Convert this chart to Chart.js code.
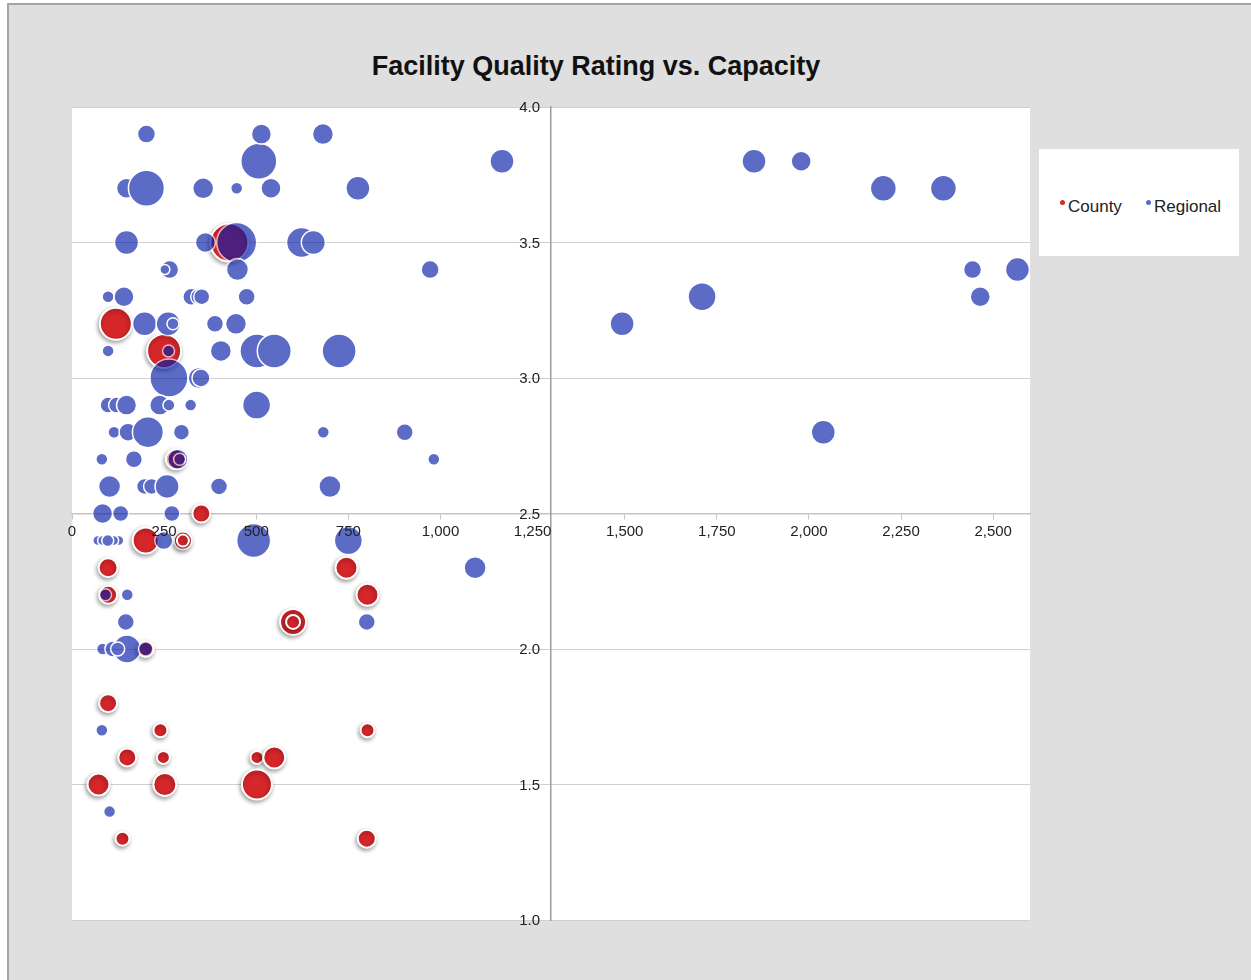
<!DOCTYPE html>
<html>
<head>
<meta charset="utf-8">
<script src="https://cdn.jsdelivr.net/npm/chart.js@4/dist/chart.umd.min.js"></script>
<style>
  html, body { margin: 0; padding: 0; background: #fff; width: 1251px; height: 980px; overflow: hidden; }
  #frame { position: absolute; left: 7px; top: 3px; width: 1300px; height: 1000px; background: #dfdfdf;
           border-left: 2px solid #a4a4a4; border-top: 2px solid #a4a4a4; }
  #title { position: absolute; left: 0; top: 47px; width: 1192px; text-align: center;
           font: bold 27px "Liberation Sans", Arial, sans-serif; color: #111; line-height: 38px; }
  #legend { position: absolute; left: 1039px; top: 149px; width: 200px; height: 107px; background: #fff;
            font: 17px "Liberation Sans", Arial, sans-serif; color: #222; }
  .item { position: absolute; top: 46px; line-height: 24px; }
  .dot { display: inline-block; width: 5px; height: 5px; border-radius: 50%; margin-right: 3px; vertical-align: 7px; }
  canvas { position: absolute; left: 0; top: 0; }
</style>
</head>
<body>
<div id="frame"></div>
<div id="title">Facility Quality Rating vs. Capacity</div>
<div id="legend">
  <div class="item" style="left:21px"><span class="dot" style="background:#d42a2a"></span>County</div>
  <div class="item" style="left:107px"><span class="dot" style="background:#5c6cc6"></span>Regional</div>
</div>
<canvas id="chart" width="1251" height="980"></canvas>
<script>
// tick labels
const capacityTicks = [0, 250, 500, 750, 1000, 1250, 1500, 1750, 2000, 2250, 2500];
const ratingTicks = [1.0, 1.5, 2.0, 2.5, 3.0, 3.5, 4.0];
const axisCrossCapacity = 1300;
const axisCrossRating = 2.5;

// County facilities: capacity, rating, size (bubble area)
const countyCapacity = [427, 119, 250, 282, 351, 200, 301, 301, 98, 745, 98, 802, 600, 600, 200,
    98, 240, 802, 150, 248, 502, 549, 72, 252, 502, 137, 800];
const countyRating = [3.5, 3.2, 3.1, 2.7, 2.5, 2.4, 2.4, 2.4, 2.3, 2.3, 2.2, 2.2, 2.1, 2.1, 2.0,
    1.8, 1.7, 1.7, 1.6, 1.6, 1.6, 1.6, 1.5, 1.5, 1.5, 1.3, 1.3];
const countySize = [361, 256, 289, 100, 81, 169, 81, 36, 90, 121, 81, 121, 169, 49, 64,
    81, 49, 49, 81, 42, 42, 121, 121, 132, 225, 49, 81];

// Regional facilities
const regionalCapacity = [
    507, 202, 514, 681, 1167, 1851, 1979,
    148, 202, 356, 447, 540, 776, 2202, 2365,
    148, 362, 447, 623, 655,
    265, 252, 449, 972, 2444, 2566,
    98, 141, 324, 344, 352, 474, 1710, 2465,
    197, 261, 274, 388, 445, 1493,
    98, 262, 404, 502, 549, 725,
    263, 344, 350,
    98, 121, 148, 238, 263, 322, 501,
    114, 152, 206, 297, 682, 903, 2039,
    81, 168, 287, 292, 982,
    102, 197, 216, 258, 399, 700,
    83, 132, 271,
    70, 83, 127, 113, 97, 249, 493, 750,
    1094,
    91, 150,
    146, 800,
    83, 111, 149, 124, 200,
    81,
    102
];
const regionalRating = [
    3.8, 3.9, 3.9, 3.9, 3.8, 3.8, 3.8,
    3.7, 3.7, 3.7, 3.7, 3.7, 3.7, 3.7, 3.7,
    3.5, 3.5, 3.5, 3.5, 3.5,
    3.4, 3.4, 3.4, 3.4, 3.4, 3.4,
    3.3, 3.3, 3.3, 3.3, 3.3, 3.3, 3.3, 3.3,
    3.2, 3.2, 3.2, 3.2, 3.2, 3.2,
    3.1, 3.1, 3.1, 3.1, 3.1, 3.1,
    3.0, 3.0, 3.0,
    2.9, 2.9, 2.9, 2.9, 2.9, 2.9, 2.9,
    2.8, 2.8, 2.8, 2.8, 2.8, 2.8, 2.8,
    2.7, 2.7, 2.7, 2.7, 2.7,
    2.6, 2.6, 2.6, 2.6, 2.6, 2.6,
    2.5, 2.5, 2.5,
    2.4, 2.4, 2.4, 2.4, 2.4, 2.4, 2.4, 2.4,
    2.3,
    2.2, 2.2,
    2.1, 2.1,
    2.0, 2.0, 2.0, 2.0, 2.0,
    1.7,
    1.4
];
const regionalSize = [
    324, 81, 100, 110, 144, 144, 100,
    100, 324, 110, 36, 100, 144, 169, 169,
    144, 100, 400, 225, 144,
    81, 25, 121, 81, 81, 144,
    36, 100, 72, 64, 64, 72, 196, 100,
    144, 144, 36, 72, 110, 144,
    36, 36, 110, 289, 289, 289,
    361, 110, 81,
    64, 64, 100, 100, 36, 36, 196,
    36, 81, 240, 64, 36, 72, 144,
    36, 72, 100, 36, 36,
    121, 64, 64, 144, 72, 121,
    100, 64, 64,
    25, 25, 25, 25, 36, 81, 289, 196,
    121,
    36, 36,
    72, 72,
    36, 64, 196, 49, 49,
    36,
    36
];

const toPoints = (xs, ys, ss) => xs.map((x, i) => ({ x: x, y: ys[i], r: Math.sqrt(ss[i]) }));

const plotBackground = {
    id: 'plotBackground',
    beforeDraw(chart) {
        const { ctx, chartArea: a } = chart;
        ctx.save();
        ctx.fillStyle = '#ffffff';
        ctx.fillRect(a.left, a.top, a.width, a.height);
        ctx.restore();
    }
};

// county bubbles get a drop shadow, regional bubbles are drawn as one translucent layer
const bubbleLayers = {
    id: 'bubbleLayers',
    beforeDatasetDraw(chart, args) {
        const ctx = chart.ctx;
        if (args.index === 0) {
            ctx.save();
            ctx.shadowColor = 'rgba(0,0,0,0.35)';
            ctx.shadowBlur = 4;
            ctx.shadowOffsetX = -1;
            ctx.shadowOffsetY = 2;
        } else if (args.index === 1) {
            const off = document.createElement('canvas');
            off.width = chart.canvas.width;
            off.height = chart.canvas.height;
            const octx = off.getContext('2d');
            args.meta.data.forEach(el => el.draw(octx, chart.chartArea));
            ctx.save();
            ctx.globalAlpha = 0.65;
            ctx.drawImage(off, 0, 0, chart.width, chart.height);
            ctx.restore();
            return false;
        }
    },
    afterDatasetDraw(chart, args) {
        if (args.index === 0) chart.ctx.restore();
    }
};

// rating labels sit left of the crossing y axis
const ratingLabels = {
    id: 'ratingLabels',
    afterDraw(chart) {
        const { ctx, scales } = chart;
        const xAxis = scales.x.getPixelForValue(axisCrossCapacity);
        ctx.save();
        ctx.font = '15px "Liberation Sans", Arial, sans-serif';
        ctx.fillStyle = '#222';
        ctx.textAlign = 'right';
        ctx.textBaseline = 'middle';
        ratingTicks.forEach(v => ctx.fillText(v.toFixed(1), xAxis - 11, scales.y.getPixelForValue(v) + 1));
        ctx.restore();
    }
};

const tickFont = { family: 'Liberation Sans', size: 15 };

new Chart(document.getElementById('chart'), {
    type: 'bubble',
    data: {
        datasets: [
            {
                label: 'County',
                data: toPoints(countyCapacity, countyRating, countySize),
                backgroundColor: '#d5262a',
                borderColor: '#ffffff',
                borderWidth: 2,
                order: 1
            },
            {
                label: 'Regional',
                data: toPoints(regionalCapacity, regionalRating, regionalSize),
                backgroundColor: 'rgb(5,29,168)',
                borderColor: '#ffffff',
                borderWidth: 1.5,
                order: 0
            }
        ]
    },
    options: {
        responsive: false,
        animation: false,
        events: [],
        layout: { padding: { left: 72, top: 107, right: 221, bottom: 60 } },
        plugins: { legend: { display: false }, title: { display: false }, tooltip: { enabled: false } },
        scales: {
            x: {
                type: 'linear',
                min: 0,
                max: 2600,
                position: { y: axisCrossRating },
                afterFit: s => { s.height = 0; },
                afterBuildTicks: s => { s.ticks = capacityTicks.map(v => ({ value: v })); },
                grid: { drawOnChartArea: false, drawTicks: true, tickLength: 5, color: '#c4c4c4' },
                border: { color: '#c4c4c4', width: 1.5 },
                ticks: {
                    autoSkip: false, maxRotation: 0, padding: 4, color: '#222', font: tickFont, z: 1,
                    callback: v => v.toLocaleString('en-US')
                }
            },
            y: {
                type: 'linear',
                min: 1,
                max: 4,
                position: { x: axisCrossCapacity },
                afterFit: s => { s.width = 0; },
                afterBuildTicks: s => { s.ticks = ratingTicks.map(v => ({ value: v })); },
                grid: { color: '#d0d0d0', drawTicks: true, tickLength: 5 },
                border: { color: '#9c9c9c', width: 1.5 },
                ticks: { display: false }
            }
        }
    },
    plugins: [plotBackground, bubbleLayers, ratingLabels]
});
</script>
</body>
</html>
